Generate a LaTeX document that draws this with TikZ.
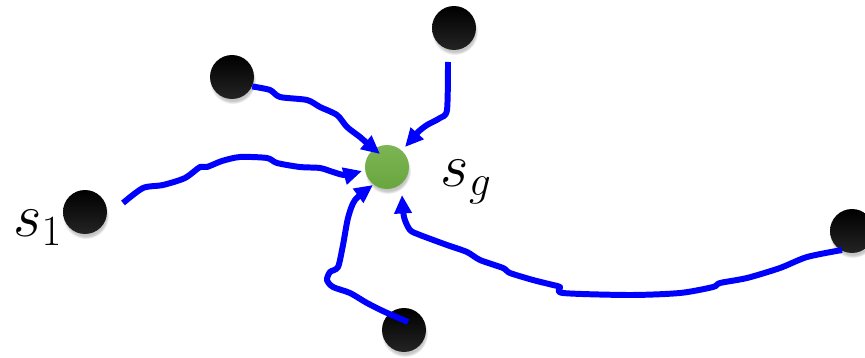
\RequirePackage{fix-cm}
\documentclass[tikz,border=0pt]{standalone}
\usepackage{amsmath}
\usepackage{xcolor}
\usepackage{tikz}
\usetikzlibrary{arrows.meta, positioning, shadows}
\definecolor{goaltop}{RGB}{124,181,84}
\definecolor{goalbot}{RGB}{104,166,62}
\definecolor{walkblue}{RGB}{0,0,255}
\tikzset{
  ball/.style = {
    circle, minimum size=0.88cm, inner sep=0pt,
    top color=black, bottom color=black!86,
    circular drop shadow={shadow xshift=0.4pt, shadow yshift=-2pt,
                          shadow scale=1.06, opacity=0.45}
  },
  goalball/.style = {
    ball, top color=goaltop, bottom color=goalbot
  },
  lbl/.style = {inner sep=0pt, font=\fontsize{35}{37}\selectfont},
  walk/.style = {walkblue, line width=3.4pt, line join=round,
                 -{Triangle[length=10.5pt, width=9.5pt]}}
}
\begin{document}
\begin{tikzpicture}[x=0.02cm, y=-0.02cm]
\useasboundingbox (0,0) rectangle (865,358);

\node[goalball] (goal) at (387,167) {};
\node[ball] (s1) at (85,212) {};
\node[ball] (tl) at (232,77) {};
\node[ball] (top) at (454,28) {};
\node[ball] (bot) at (404,330) {};
\node[ball] (rgt) at (852,231) {};

\node[lbl, left=0pt of s1, yshift=-0.32cm] (s1lbl) {$s_1$};
\node[lbl, right=0.62cm of goal, yshift=-0.3cm] (sglbl) {$s_g$};

\draw[walk] plot[smooth, tension=0.45] coordinates {
  ([shift={(38,-9)}]s1.center) (143,188) (163,185) (185,178) (200,167)
  (207,167) (222,161) (240,157) (267,158) (277,163) (300,167) (320,168)
  (333,172) (345,175) ([shift={(-25,4)}]goal.center)};

\draw[walk] plot[smooth, tension=0.45] coordinates {
  (tl.-25) (270,90) (280,97) (307,100) (320,107) (337,115) (347,127)
  (360,137) (368,144) ([shift={(-7,-13)}]goal.center)};

\draw[walk] plot[smooth, tension=0.45] coordinates {
  ([shift={(-6,34)}]top.center) (447,110) (440,118) (427,125) (418,132)
  (413,138) ([shift={(18,-20)}]goal.center)};

\draw[walk] plot[smooth, tension=0.45] coordinates {
  ([shift={(4,-8)}]bot.center) (385,312) (367,303) (350,293) (333,287)
  (327,280) (330,272) (338,267) (343,245) (348,218) (355,200)
  ([shift={(-14,18)}]goal.center)};

\draw[walk] plot[smooth, tension=0.45] coordinates {
  ([shift={(-10,19)}]rgt.center) (807,257) (780,268) (747,278) (720,283)
  (713,287) (680,293) (630,295) (563,293) (560,287) (553,285) (533,280)
  (510,273) (503,268) (480,260) (467,252) (447,245) (420,235) (410,230)
  (404,217) ([shift={(15,28)}]goal.center)};

\end{tikzpicture}
\end{document}
